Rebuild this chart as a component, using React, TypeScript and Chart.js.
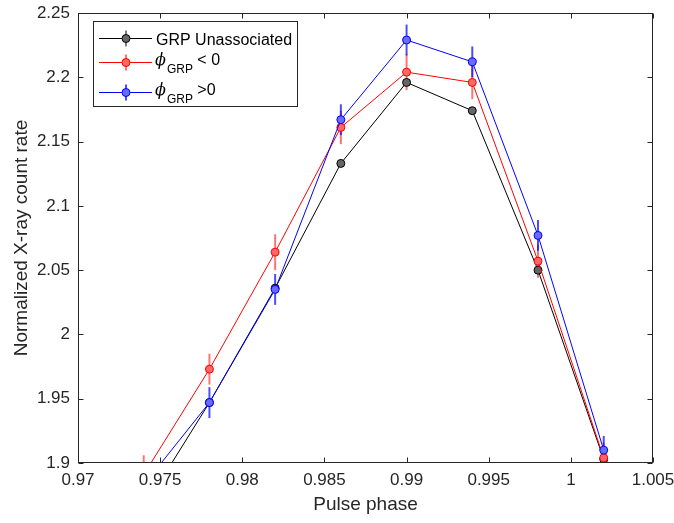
import { useEffect, useRef } from "react";
import { Chart, registerables } from "chart.js";

Chart.register(...registerables);

// ---- data ----
const phase = [0.974, 0.978, 0.982, 0.986, 0.99, 0.994, 0.998, 1.002];
const unassociated = [1.865, 1.947, 2.036, 2.133, 2.196, 2.174, 2.05, 1.903];
const phiNeg = [1.891, 1.973, 2.064, 2.161, 2.204, 2.196, 2.057, 1.904];
const phiNegErr = [0.015, 0.012, 0.014, 0.013, 0.014, 0.013, 0.013, 0.012];
const phiPos = [1.883, 1.947, 2.035, 2.167, 2.229, 2.212, 2.077, 1.91];
const phiPosErr = [0.012, 0.012, 0.012, 0.012, 0.012, 0.012, 0.012, 0.011];

const xTitle = "Pulse phase";
const yTitle = "Normalized X-ray count rate";
const legendMain = ["GRP Unassociated", " < 0", " >0"];
const legendSub = "GRP";
const phiChar = "\u03D5";

const AX = "#262626";
const FONT = '"Liberation Sans", Arial, sans-serif';

export default function App() {
  const ref = useRef<HTMLCanvasElement>(null);

  useEffect(() => {
    document.body.style.margin = "0";
    if (!ref.current) return;
    const pts = (ys: number[]) => phase.map((x, i) => ({ x, y: ys[i] }));

    const series = [
      { data: unassociated, err: null as number[] | null, line: "#000000", fill: "#666666", bar: "#000000" },
      { data: phiNeg, err: phiNegErr, line: "#ff0000", fill: "#ff6666", bar: "rgba(255,0,0,0.55)" },
      { data: phiPos, err: phiPosErr, line: "#0000ff", fill: "#6a6aff", bar: "rgba(0,0,255,0.7)" },
    ];

    const errorBars = {
      id: "errorBars",
      beforeDatasetsDraw(chart: any) {
        const { ctx, chartArea: a, scales } = chart;
        ctx.save();
        ctx.beginPath();
        ctx.rect(a.left, a.top, a.right - a.left, a.bottom - a.top);
        ctx.clip();
        ctx.lineWidth = 2;
        series.forEach((s) => {
          if (!s.err) return;
          ctx.strokeStyle = s.bar;
          s.data.forEach((v, i) => {
            const px = scales.x.getPixelForValue(phase[i]);
            const y1 = scales.y.getPixelForValue(v - s.err![i]);
            const y2 = scales.y.getPixelForValue(v + s.err![i]);
            ctx.beginPath();
            ctx.moveTo(px, y1);
            ctx.lineTo(px, y2);
            ctx.stroke();
          });
        });
        ctx.restore();
      },
    };

    const frame = {
      id: "frame",
      afterDraw(chart: any) {
        const { ctx, chartArea: a, scales } = chart;
        ctx.save();
        ctx.strokeStyle = AX;
        ctx.lineWidth = 1;
        const L = Math.round(a.left) + 0.5;
        const R = Math.round(a.right) - 0.5;
        const T = Math.round(a.top) + 0.5;
        const B = Math.round(a.bottom) - 0.5;
        ctx.strokeRect(L, T, R - L, B - T);
        ctx.beginPath();
        scales.x.ticks.forEach((t: any) => {
          const px = Math.round(scales.x.getPixelForValue(t.value)) + 0.5;
          ctx.moveTo(px, B);
          ctx.lineTo(px, B - 5);
          ctx.moveTo(px, T);
          ctx.lineTo(px, T + 5);
        });
        scales.y.ticks.forEach((t: any) => {
          const py = Math.round(scales.y.getPixelForValue(t.value)) + 0.5;
          ctx.moveTo(L, py);
          ctx.lineTo(L + 5, py);
          ctx.moveTo(R, py);
          ctx.lineTo(R - 5, py);
        });
        ctx.stroke();

        // legend
        const bx = 93.5, by = 21.5, bw = 204, bh = 85;
        ctx.fillStyle = "#ffffff";
        ctx.fillRect(bx, by, bw, bh);
        ctx.strokeStyle = AX;
        ctx.strokeRect(bx, by, bw, bh);
        const rowY = [38.5, 62.5, 92.5];
        series.forEach((s, i) => {
          const cy = rowY[i];
          ctx.strokeStyle = s.line;
          ctx.lineWidth = 1;
          ctx.beginPath();
          ctx.moveTo(99, cy);
          ctx.lineTo(152, cy);
          ctx.stroke();
          ctx.strokeStyle = s.bar;
          ctx.lineWidth = i === 0 ? 1 : 2;
          ctx.beginPath();
          ctx.moveTo(126, cy - 8);
          ctx.lineTo(126, cy + 8);
          ctx.stroke();
          ctx.beginPath();
          ctx.arc(126, cy, 4, 0, Math.PI * 2);
          ctx.fillStyle = s.fill;
          ctx.fill();
          ctx.strokeStyle = s.line;
          ctx.lineWidth = 1;
          ctx.stroke();
        });
        ctx.fillStyle = "#000000";
        ctx.textAlign = "left";
        ctx.textBaseline = "alphabetic";
        ctx.font = "16px " + FONT;
        ctx.fillText(legendMain[0], 156, 44.5);
        [1, 2].forEach((i) => {
          const base = i === 1 ? 65 : 95;
          ctx.font = 'italic 16px "DejaVu Serif", serif';
          ctx.fillText(phiChar, 155, base);
          const pw = ctx.measureText(phiChar).width;
          ctx.font = "12px " + FONT;
          ctx.fillText(legendSub, 155 + pw + 1, base + 8);
          const sw = ctx.measureText(legendSub).width;
          ctx.font = "16px " + FONT;
          ctx.fillText(legendMain[i], 155 + pw + 1 + sw, base);
        });
        ctx.restore();
      },
    };

    const fmt = (v: any) => String(parseFloat(Number(v).toFixed(4)));

    const chart = new Chart(ref.current, {
      type: "scatter",
      data: {
        datasets: series.map((s, i) => ({
          label: i === 0 ? legendMain[0] : legendSub,
          data: pts(s.data),
          showLine: true,
          borderColor: s.line,
          borderWidth: 1,
          backgroundColor: s.fill,
          pointBackgroundColor: s.fill,
          pointBorderColor: s.line,
          pointBorderWidth: 1,
          pointRadius: 4,
          pointHoverRadius: 4,
          order: 2 - i,
        })),
      },
      options: {
        animation: false,
        responsive: true,
        maintainAspectRatio: false,
        events: [],
        layout: { padding: { left: 0, top: 13, right: 21, bottom: 0 } },
        plugins: { legend: { display: false }, tooltip: { enabled: false } },
        scales: {
          x: {
            type: "linear",
            min: 0.97,
            max: 1.005,
            grid: { display: false, drawTicks: false },
            border: { display: false },
            ticks: { stepSize: 0.005, callback: fmt, color: AX, font: { size: 17, family: FONT }, padding: 7, maxRotation: 0 },
            title: { display: true, text: xTitle, color: AX, font: { size: 19, family: FONT }, padding: { top: 0, bottom: 7 } },
            afterFit: (s: any) => {
              s.height = 60;
              s.paddingLeft = 0;
              s.paddingRight = 0;
            },
          },
          y: {
            type: "linear",
            min: 1.9,
            max: 2.25,
            grid: { display: false, drawTicks: false },
            border: { display: false },
            ticks: { stepSize: 0.05, callback: fmt, color: AX, font: { size: 17, family: FONT }, padding: 8 },
            title: { display: true, text: yTitle, color: AX, font: { size: 19, family: FONT }, padding: { top: 10, bottom: 0 } },
            afterFit: (s: any) => {
              s.width = 78;
              s.paddingTop = 0;
              s.paddingBottom = 0;
            },
          },
        },
      },
      plugins: [errorBars, frame],
    });
    return () => chart.destroy();
  }, []);

  return (
    <div style={{ width: 674, height: 523, position: "relative" }}>
      <canvas ref={ref} />
    </div>
  );
}
